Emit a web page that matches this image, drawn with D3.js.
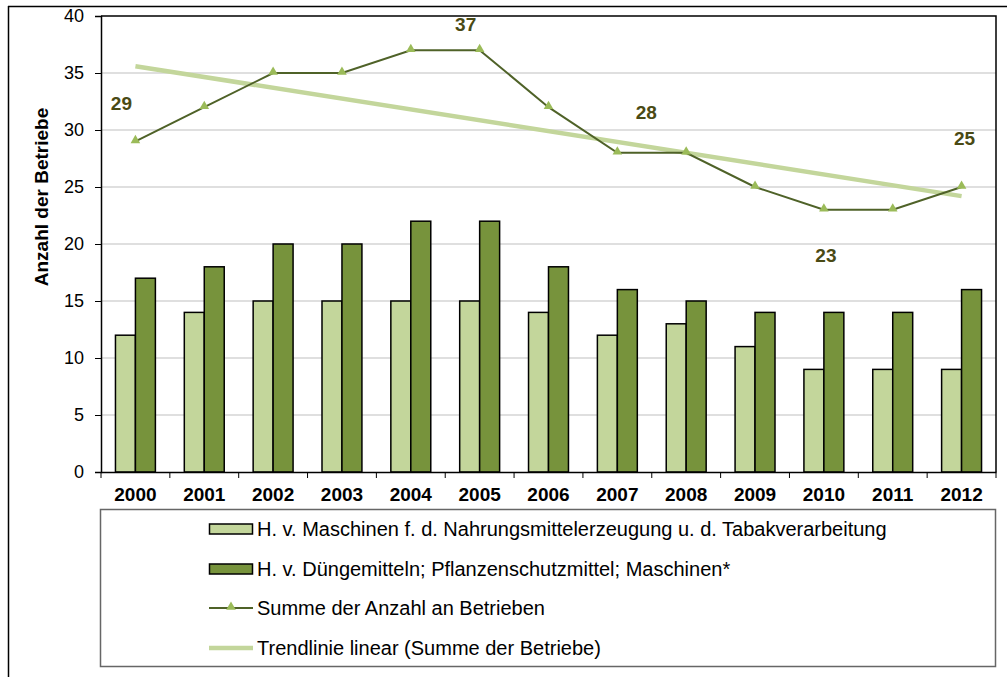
<!DOCTYPE html>
<html>
<head>
<meta charset="utf-8">
<script src="https://cdn.jsdelivr.net/npm/d3@7"></script>
<style>
  html, body { margin: 0; padding: 0; background: #fff; }
  svg { display: block; font-family: "Liberation Sans", Arial, sans-serif; }
</style>
</head>
<body>
<svg id="chart" width="1007" height="677"></svg>
<script>
// ---- data ----
const years = ["2000","2001","2002","2003","2004","2005","2006","2007","2008","2009","2010","2011","2012"];
const maschinen = [12,14,15,15,15,15,14,12,13,11,9,9,9];
const duenge = [17,18,20,20,22,22,18,16,15,14,14,14,16];
const summe = [29,32,35,35,37,37,32,28,28,25,23,23,25];
const trendEnds = [35.6, 24.2]; // trend line values at first and last year
const yTicks = [0,5,10,15,20,25,30,35,40];
const labelIdx = [0,5,7,10,12];
const legendLabels = [
  "H. v. Maschinen f. d. Nahrungsmittelerzeugung u. d. Tabakverarbeitung",
  "H. v. Düngemitteln; Pflanzenschutzmittel; Maschinen*",
  "Summe der Anzahl an Betrieben",
  "Trendlinie linear (Summe der Betriebe)"
];

// ---- layout ----
const svg = d3.select("#chart");
const L = 101, R = 996, T = 16, B = 472;
const cLight = "#c3d69b", cDark = "#77933c", cLine = "#4f6228", cMarker = "#9bbb59", cLabel = "#4a4a14";
const FF = "Liberation Sans, Arial, sans-serif";

// outer frame
svg.append("line").attr("x1", 8).attr("x2", 1007).attr("y1", 6.5).attr("y2", 6.5).attr("stroke", "#000").attr("stroke-width", 1.5);
svg.append("line").attr("x1", 8.5).attr("x2", 8.5).attr("y1", 6).attr("y2", 677).attr("stroke", "#000").attr("stroke-width", 1.5);

const x = d3.scaleBand().domain(years).range([L, R]).padding(0);
const y = d3.scaleLinear().domain([0, 40]).range([B, T]);
const bw = x.bandwidth() * 0.29;

// gridlines
svg.append("g").selectAll("line").data(yTicks.filter(d => d > 0 && d < 40)).join("line")
  .attr("x1", L).attr("x2", R).attr("y1", d => y(d)).attr("y2", d => y(d))
  .attr("stroke", "#bfbfbf").attr("stroke-width", 1);

// plot area frame (top and right)
svg.append("path").attr("d", `M${L},${T}H${R}V${B}`).attr("fill", "none").attr("stroke", "#000").attr("stroke-width", 1.5);

// bars
const bars = svg.append("g");
bars.selectAll("rect.l").data(maschinen).join("rect").attr("class", "l")
  .attr("x", (d, i) => x(years[i]) + x.bandwidth() / 2 - bw)
  .attr("y", d => y(d)).attr("width", bw).attr("height", d => B - y(d))
  .attr("fill", cLight).attr("stroke", "#000").attr("stroke-width", 1.5);
bars.selectAll("rect.d").data(duenge).join("rect").attr("class", "d")
  .attr("x", (d, i) => x(years[i]) + x.bandwidth() / 2)
  .attr("y", d => y(d)).attr("width", bw).attr("height", d => B - y(d))
  .attr("fill", cDark).attr("stroke", "#000").attr("stroke-width", 1.5);

// y axis
const yAxis = svg.append("g").attr("transform", `translate(${L},0)`)
  .call(d3.axisLeft(y).tickValues(yTicks).tickSize(6).tickPadding(11));
yAxis.select(".domain").attr("stroke", "#000").attr("stroke-width", 1.5);
yAxis.selectAll(".tick line").attr("stroke", "#000");
yAxis.selectAll("text").attr("font-size", 18).attr("fill", "#000").attr("font-family", FF);

// x axis
const xAxis = svg.append("g").attr("transform", `translate(0,${B})`)
  .call(d3.axisBottom(x).tickSize(0).tickPadding(16));
xAxis.select(".domain").attr("stroke", "#000").attr("stroke-width", 1.5);
xAxis.selectAll("text").attr("font-size", 19).attr("font-weight", "bold").attr("fill", "#000").attr("font-family", FF);
svg.append("g").selectAll("line").data(years.concat(["end"])).join("line")
  .attr("x1", (d, i) => L + i * x.bandwidth()).attr("x2", (d, i) => L + i * x.bandwidth())
  .attr("y1", B).attr("y2", B + 6).attr("stroke", "#000").attr("stroke-width", 1);

// axis title
svg.append("text").attr("transform", "translate(48,197) rotate(-90)")
  .attr("text-anchor", "middle").attr("font-size", 19).attr("font-weight", "bold")
  .text("Anzahl der Betriebe");

const cx = i => x(years[i]) + x.bandwidth() / 2;

// trend line
svg.append("line")
  .attr("x1", cx(0)).attr("y1", y(trendEnds[0]))
  .attr("x2", cx(years.length - 1)).attr("y2", y(trendEnds[1]))
  .attr("stroke", cLight).attr("stroke-width", 4.5);

// sum line
svg.append("path").datum(summe)
  .attr("d", d3.line().x((d, i) => cx(i)).y(d => y(d)))
  .attr("fill", "none").attr("stroke", cLine).attr("stroke-width", 2);
const tri = d3.symbol().type(d3.symbolTriangle).size(40);
svg.append("g").selectAll("path").data(summe).join("path")
  .attr("d", tri).attr("transform", (d, i) => `translate(${cx(i)},${y(d) - 1})`)
  .attr("fill", cMarker);

// data labels
const labelOffsets = {0: [-14, -38], 5: [-14, -26], 7: [29, -40], 10: [2, 46], 12: [3, -49]};
svg.append("g").selectAll("text").data(labelIdx).join("text")
  .attr("x", i => cx(i) + labelOffsets[i][0])
  .attr("y", i => y(summe[i]) + labelOffsets[i][1])
  .attr("dy", "0.35em").attr("text-anchor", "middle")
  .attr("font-size", 19).attr("font-weight", "bold").attr("fill", cLabel)
  .text(i => summe[i]);

// legend
svg.append("rect").attr("x", 100.5).attr("y", 509.5).attr("width", 895).attr("height", 157)
  .attr("fill", "#fff").attr("stroke", "#666").attr("stroke-width", 1.5);
const lg = svg.append("g");
const rowY = [529, 569, 608, 648];
lg.selectAll("text").data(legendLabels).join("text")
  .attr("x", 257).attr("y", (d, i) => rowY[i]).attr("dy", "0.35em")
  .attr("font-size", 20).attr("fill", "#000").attr("font-family", FF).text(d => d);
lg.append("rect").attr("x", 209.5).attr("y", rowY[0] - 5).attr("width", 43).attr("height", 10)
  .attr("fill", cLight).attr("stroke", "#000").attr("stroke-width", 1.5);
lg.append("rect").attr("x", 209.5).attr("y", rowY[1] - 5).attr("width", 43).attr("height", 10)
  .attr("fill", cDark).attr("stroke", "#000").attr("stroke-width", 1.5);
lg.append("line").attr("x1", 209).attr("x2", 253).attr("y1", rowY[2]).attr("y2", rowY[2])
  .attr("stroke", cLine).attr("stroke-width", 2);
lg.append("path").attr("d", tri).attr("transform", `translate(231,${rowY[2] - 1})`).attr("fill", cMarker);
lg.append("line").attr("x1", 209).attr("x2", 253).attr("y1", rowY[3]).attr("y2", rowY[3])
  .attr("stroke", cLight).attr("stroke-width", 4.5);
</script>
</body>
</html>
